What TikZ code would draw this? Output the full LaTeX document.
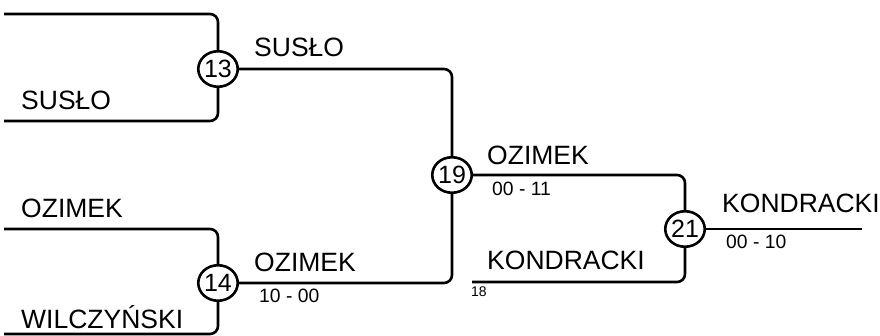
\documentclass[tikz,border=0pt]{standalone}
\usepackage{fontspec}
\setmainfont{Liberation Sans}
\usetikzlibrary{shapes.geometric}
\begin{document}
\begin{tikzpicture}[x=1pt,y=-1pt,
  conn/.style={line width=2.6pt,rounded corners=8pt},
  gamecirc/.style={ellipse,draw,line width=2.6pt,minimum width=39.5pt,minimum height=35.5pt,inner sep=0pt,font=\fontsize{25}{25}\selectfont},
  plabel/.style={anchor=base west,inner sep=0pt,font=\fontsize{26.5}{26.5}\selectfont},
  slabel/.style={anchor=base west,inner sep=0pt,font=\fontsize{19.3}{19.3}\selectfont},
  seedlabel/.style={anchor=base west,inner sep=0pt,font=\fontsize{14}{14}\selectfont}]
\useasboundingbox (0,0) rectangle (880,336);
\node[gamecirc] (m13) at (218,69) {13};
\node[gamecirc] (m14) at (218,283) {14};
\node[gamecirc] (m19) at (452,175) {19};
\node[gamecirc] (m21) at (685,229) {21};
\coordinate (a1) at (4,14);
\coordinate (a2) at (4,121);
\coordinate (b1) at (4,229);
\coordinate (b2) at (4,334);
\coordinate (c2) at (472,282);
\coordinate (fin) at (862,229);
\draw[conn] (a1) -| (m13);
\draw[conn] (a2) -| (m13);
\draw[conn] (b1) -| (m14);
\draw[conn] (b2) -| (m14);
\draw[conn] (m13) -| (m19);
\draw[conn] (m14) -| (m19);
\draw[conn] (m19) -| (m21);
\draw[conn] (c2) -| (m21);
\draw[conn] (m21) -- (fin);
\node[plabel] (t1) at (21,110) {SUSŁO};
\node[plabel] (t2) at (254,57) {SUSŁO};
\node[plabel] (t3) at (21,218) {OZIMEK};
\node[plabel] (t4) at (21,328) {WILCZYŃSKI};
\node[plabel] (t5) at (254,272) {OZIMEK};
\node[slabel] (s5) at (259,302) {10 - 00};
\node[plabel] (t6) at (487,165) {OZIMEK};
\node[slabel] (s6) at (492,196) {00 - 11};
\node[plabel] (t7) at (487,270) {KONDRACKI};
\node[seedlabel] (s7) at (471,297) {18};
\node[plabel] (t8) at (722,213) {KONDRACKI};
\node[slabel] (s8) at (726,249) {00 - 10};
\end{tikzpicture}
\end{document}
